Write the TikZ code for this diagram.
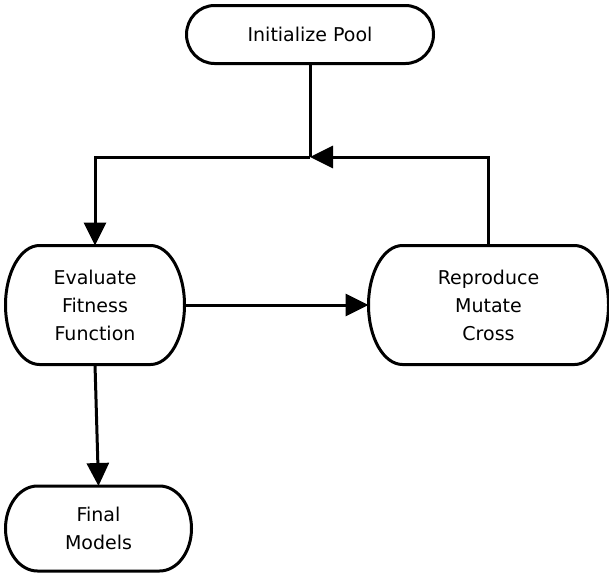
\documentclass[tikz,border=0pt]{standalone}
\usepackage{fontspec}
\setmainfont{DejaVu Sans}
\usetikzlibrary{arrows.meta,positioning,calc}

\begin{document}
\begin{tikzpicture}[
	x=1pt, y=-1pt,
	line width=3pt,
	font=\fontsize{19}{28}\selectfont,
	pillnode/.style={align=center, inner sep=0pt},
	flowline/.style={-{Triangle[length=23pt,width=22pt]}},
	]
	\useasboundingbox (0,0) rectangle (609,573);
	%Nodes
	\node[pillnode, minimum width=244pt, minimum height=55pt]  (init)  at (310,34.5)  {Initialize Pool};
	\node[pillnode, minimum width=176pt, minimum height=116pt] (eval)  at (95,305)    {Evaluate\\Fitness\\Function};
	\node[pillnode, minimum width=237pt, minimum height=116pt] (repro) at (488.5,305) {Reproduce\\Mutate\\Cross};
	\node[pillnode, minimum width=183pt, minimum height=82pt]  (final) at (98.5,528.5) {Final\\Models};

	%Outlines
	\foreach \nd/\rx in {init/28pt, eval/34pt, repro/34pt, final/32pt}
	  \draw let \p1=(\nd.north), \p2=(\nd.south), \n1={(\y1-\y2)/2} in
	    ([xshift=\rx]\nd.north west) -- ([xshift=-\rx]\nd.north east)
	    arc[start angle=90, end angle=-90, x radius=\rx, y radius={\n1*1pt}]
	    -- ([xshift=\rx]\nd.south west)
	    arc[start angle=270, end angle=90, x radius=\rx, y radius={\n1*1pt}] -- cycle;

	%Lines
	\coordinate (split)   at (init.south |- 0,157);
	\coordinate (upleft)  at (eval.north |- split);
	\coordinate (upright) at (repro.north |- split);
	\draw (init.south) -- (split);
	\draw[flowline] (split) -- (upleft) -- (eval.north);
	\draw[flowline] (repro.north) -- (upright) -- (split);
	\draw[flowline] (eval.east) -- (repro.west);
	\draw[flowline] (eval.south) -- (final.north);
\end{tikzpicture}
\end{document}
